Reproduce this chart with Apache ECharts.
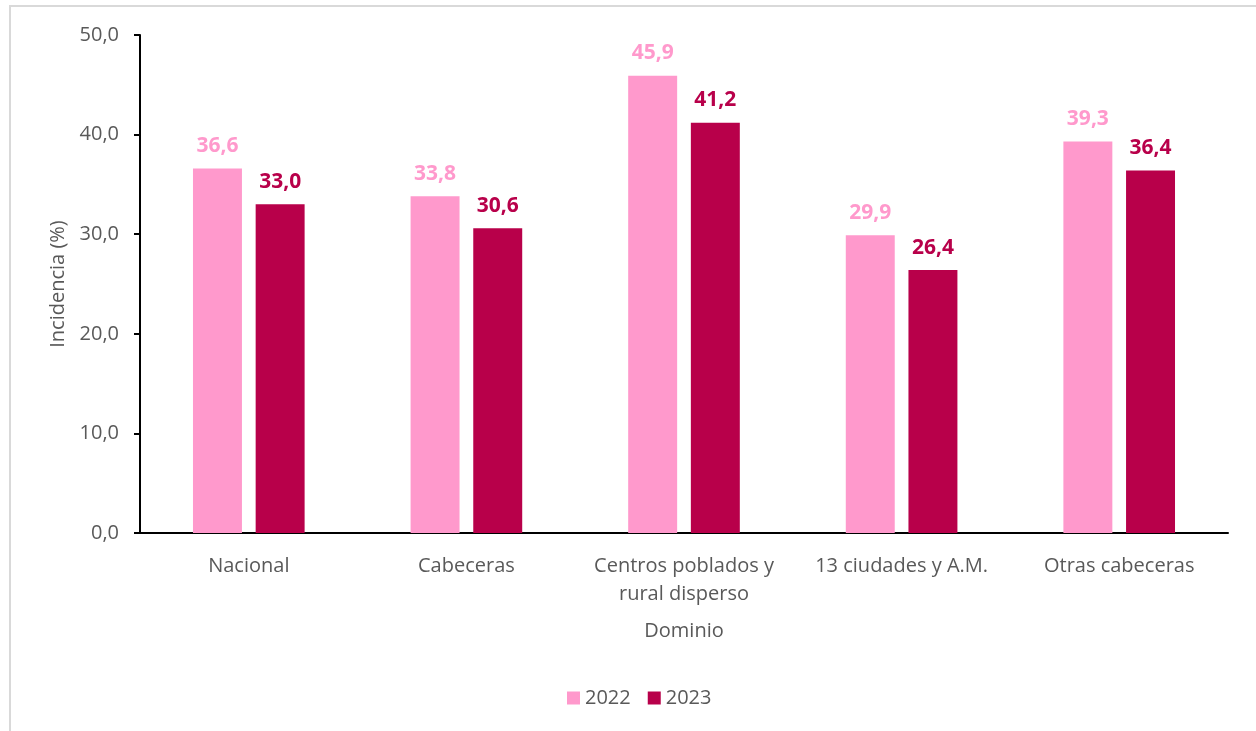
<!DOCTYPE html>
<html>
<head>
<meta charset="utf-8">
<script src="https://cdn.jsdelivr.net/npm/echarts@6/dist/echarts.min.js"></script>
<style>
html,body{margin:0;padding:0;background:#fff;}
#frame{position:absolute;left:9px;top:5px;width:1300px;height:800px;border-left:2px solid #d9d9d9;border-top:2px solid #d9d9d9;}
#chart{position:absolute;left:0;top:0;width:1256px;height:731px;}
</style>
</head>
<body>
<div id="frame"></div>
<div id="chart"></div>
<script>
const categories = ['Nacional', 'Cabeceras', 'Centros poblados y\nrural disperso', '13 ciudades y A.M.', 'Otras cabeceras'];
const series2022 = [36.6, 33.8, 45.9, 29.9, 39.3];
const series2023 = [33.0, 30.6, 41.2, 26.4, 36.4];
const yTicks = [0, 10, 20, 30, 40, 50];

const FONT = '"Open Sans", "Noto Sans", sans-serif';
const PINK = '#ff99cc';
const DARK = '#b8004a';
const fmt = v => v.toFixed(1).replace('.', ',');

const chart = echarts.init(document.getElementById('chart'), null, {renderer: 'canvas'});
chart.setOption({
  backgroundColor: 'transparent',
  textStyle: {fontFamily: FONT},
  animation: false,
  grid: {left: 140, right: 28, top: 35, bottom: 198, containLabel: false},
  legend: {
    data: ['2022', '2023'],
    bottom: 18,
    left: 562,
    itemWidth: 13, itemHeight: 13, itemGap: 17,
    icon: 'rect',
    textStyle: {fontFamily: FONT, fontSize: 20, color: '#595959', padding: [0, 0, 0, 0]}
  },
  xAxis: {
    type: 'category',
    data: categories,
    name: 'Dominio',
    nameLocation: 'middle',
    nameGap: 88,
    nameTextStyle: {fontFamily: FONT, fontSize: 20, color: '#595959'},
    axisLine: {lineStyle: {color: '#000', width: 2}},
    axisTick: {show: false},
    axisLabel: {fontFamily: FONT, fontSize: 20, color: '#595959', margin: 19, lineHeight: 28, interval: 0}
  },
  yAxis: {
    type: 'value',
    min: yTicks[0], max: yTicks[yTicks.length - 1], interval: 10,
    name: 'Incidencia (%)',
    nameLocation: 'middle',
    nameGap: 68,
    nameTextStyle: {fontFamily: FONT, fontSize: 20, color: '#595959'},
    axisLine: {show: true, lineStyle: {color: '#000', width: 2}},
    axisTick: {show: true, length: 6, lineStyle: {color: '#000', width: 2}},
    splitLine: {show: false},
    axisLabel: {fontFamily: FONT, fontSize: 20, color: '#595959', margin: 21, formatter: v => fmt(v)}
  },
  series: [
    {
      name: '2022', type: 'bar', data: series2022,
      barWidth: '22.5%', barGap: '28%',
      itemStyle: {color: PINK},
      label: {show: true, position: 'top', distance: 12, fontFamily: FONT, fontSize: 21, fontWeight: 'bold', color: PINK, formatter: p => fmt(p.value)}
    },
    {
      name: '2023', type: 'bar', data: series2023,
      barWidth: '22.5%',
      itemStyle: {color: DARK},
      label: {show: true, position: 'top', distance: 12, fontFamily: FONT, fontSize: 21, fontWeight: 'bold', color: DARK, formatter: p => fmt(p.value)}
    }
  ]
});
</script>
</body>
</html>
